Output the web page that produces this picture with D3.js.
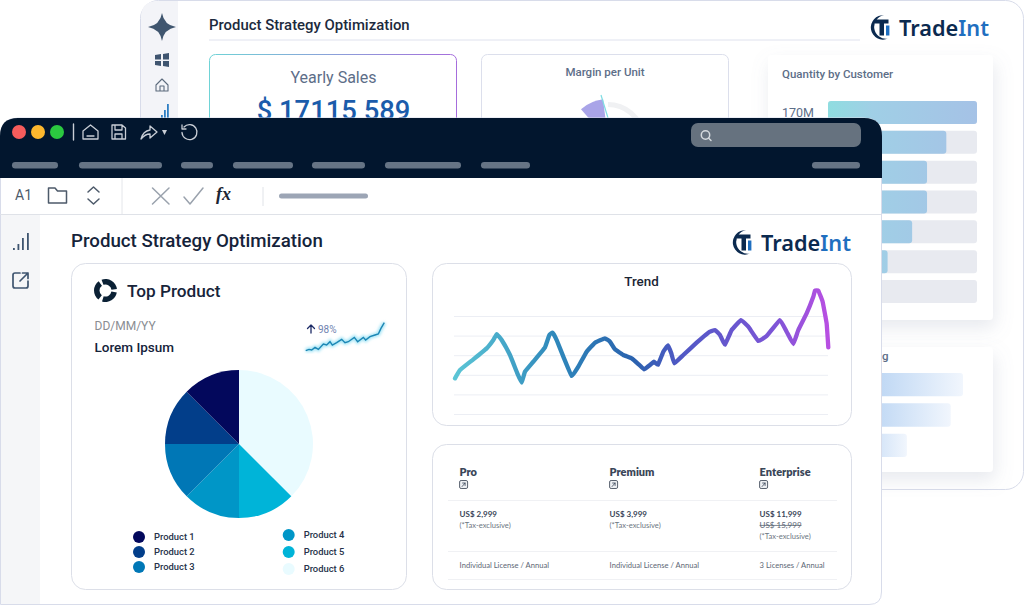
<!DOCTYPE HTML>
<html>
<head>
<meta charset="utf-8">
<title>Product Strategy Optimization</title>
<script src="https://d3js.org/d3.v7.min.js"></script>
<style>
    html, body { margin: 0; padding: 0; background: #fff; }
    svg { display: block; }
    text { font-family: Roboto, sans-serif; }
    .soft { font-family: Lato, sans-serif; }
    .brand { font-family: "Noto Sans", sans-serif; }
    .math { font-family: "Liberation Serif", serif; }
</style>
</head>
<body>
<svg id="chart" width="1024" height="605"></svg>
<script>
// data
const pieProducts = ["Product 6", "Product 5", "Product 4", "Product 3", "Product 2", "Product 1"];
const pieValues = [37.5, 12.5, 12.5, 12.5, 12.5, 12.5];
const pieColors = ["#e9fbff", "#00b4d8", "#0096c7", "#0077b6", "#023e8a", "#03085c"];

const trendTime = [3, 18, 58, 98, 118, 128, 143, 168, 190, 203, 213, 238, 273, 286, 296, 308, 328, 353, 373, 398, 423, 453, 468, 483, 508, 533, 553, 570, 588, 600, 612, 628, 642, 652, 661, 688, 728, 763, 783, 798, 813, 833, 861, 883, 913, 938, 978, 998, 1018, 1033, 1058, 1078, 1083, 1093, 1106, 1118, 1123];
const trendValues = [36.4, 44.9, 55.8, 67, 75.5, 81.6, 75.5, 60.2, 41.5, 32, 43.2, 53.4, 68, 80.6, 83, 75.5, 58.5, 38.8, 48.3, 63.6, 72.8, 77.2, 73.8, 66, 60.2, 56.8, 51, 45.6, 50, 53.4, 50.3, 63.6, 70, 61.9, 51.7, 60.2, 72.8, 83, 85.7, 80.6, 70.7, 85.7, 95.9, 89.1, 74.5, 79.6, 95.9, 84, 71.4, 85.7, 102.7, 119.7, 125.9, 125.9, 114.6, 92.5, 68];

const sparkTime = [32, 42, 50, 60, 70, 85, 95, 105, 112, 125, 140, 150, 160, 178, 188, 205, 212, 225, 240, 250, 258, 268];
const sparkValues = [8, 12, 10, 18, 12, 28, 25, 35, 25, 32, 42, 32, 35, 48, 35, 48, 40, 50, 55, 58, 75, 92];

const qtyValues = [170, 135, 113, 113, 96, 68, 0];
const rankValues = [154, 140, 90];

const planNames = ["Pro", "Premium", "Enterprise"];
const planPrices = ["US$ 2,999", "US$ 3,999", "US$ 11,999"];
const planOldPrices = [null, null, "US$ 15,999"];
const planLicences = ["Individual License / Annual", "Individual License / Annual", "3 Licenses / Annual"];
const menuStarts = [12, 79, 181, 233, 312, 385, 481, 812];
const menuEnds = [58, 162, 213, 293, 365, 461, 530, 860];

const svg = d3.select("#chart");
const defs = svg.append("defs");

function gradient(id, stops, x1, x2, y1, y2) {
    const g = defs.append("linearGradient").attr("id", id).attr("gradientUnits", "userSpaceOnUse")
        .attr("x1", x1).attr("x2", x2).attr("y1", y1 || 0).attr("y2", y2 || 0);
    stops.forEach(s => g.append("stop").attr("offset", s[0]).attr("stop-color", s[1]));
}
const shadow = defs.append("filter").attr("id", "shadow").attr("x", "-20%").attr("y", "-20%").attr("width", "140%").attr("height", "140%");
shadow.append("feDropShadow").attr("dx", 2).attr("dy", 8).attr("stdDeviation", 9).attr("flood-color", "#8a93ad").attr("flood-opacity", 0.2);
const glow = defs.append("filter").attr("id", "glow");
glow.append("feGaussianBlur").attr("stdDeviation", 1.6);

function box(parent, x, y, w, h, r, fill, stroke) {
    return parent.append("rect").attr("x", x).attr("y", y).attr("width", w).attr("height", h)
        .attr("rx", r).attr("fill", fill).attr("stroke", stroke || "none");
}
function label(parent, x, y, str, size, color, weight, anchor) {
    return parent.append("text").attr("x", x).attr("y", y).text(str)
        .attr("font-size", size).attr("fill", color)
        .attr("font-weight", weight || 400).attr("text-anchor", anchor || "start");
}
function icon(parent, d, color, width) {
    return parent.append("path").attr("d", d).attr("fill", "none").attr("stroke", color)
        .attr("stroke-width", width || 1.6).attr("stroke-linecap", "round").attr("stroke-linejoin", "round");
}

function logo(parent, x, y) {
    const g = parent.append("g").attr("transform", `translate(${x},${y})`);
    g.append("path").attr("fill", "#0b2a4f").attr("d", "M15 0.3 A12.2 12.2 0 1 0 19 23.6 A11.5 11.5 0 0 1 15 0.3 Z");
    g.append("path").attr("fill", "#0b2a4f").attr("d", "M6 4.5 H19.5 V8.4 H15 V20.5 H10.5 V8.4 H6 Z");
    g.append("rect").attr("x", 17).attr("y", 10.5).attr("width", 3.4).attr("height", 10).attr("fill", "#1f6fc0");
    const t = g.append("text").attr("x", 30).attr("y", 21).attr("font-size", 22).attr("font-weight", 600)
        .attr("class", "brand").attr("textLength", 90).attr("lengthAdjust", "spacingAndGlyphs").attr("fill", "#0b2a4f");
    t.append("tspan").text("Trade");
    t.append("tspan").attr("fill", "#1f6fc0").text("Int");
}

// ---- back panel
const back = svg.append("g");
box(back, 140.5, 0.5, 883, 489, 18, "#fff", "#d8dcea");
back.append("path").attr("fill", "#f3f4f8").attr("d", "M178 1 H158 Q141 1 141 18 V130 H178 Z");
back.append("path").attr("fill", "#40566f").attr("d", "M162 13 Q164 25 176 27 Q164 29 162 41 Q160 29 148 27 Q160 25 162 13 Z");
back.append("path").attr("fill", "#3f5570").attr("d", "M155 55 L161 54 V59.5 H155 Z M163 54 L169 53 V59.5 H163 Z M155 61 H161 V66 L155 65 Z M163 61 H169 V67 L163 66 Z");
icon(back, "M156 85 L162 79 L168 85 V91 H156 Z M160 91 V86 H164 V91", "#5c6b7d", 1.1);
[[158, 118], [161, 115], [164, 110], [167, 104]].forEach(b =>
    back.append("rect").attr("x", b[0]).attr("y", b[1]).attr("width", 1.8).attr("height", 122 - b[1]).attr("fill", "#2f7fc4"));

label(back, 209, 30, "Product Strategy Optimization", 14.9, "#1c2a3d", 500);
back.append("line").attr("x1", 209).attr("x2", 860).attr("y1", 40).attr("y2", 40).attr("stroke", "#dfe2ee");
logo(back, 869, 15);

gradient("salesBorder", [[0, "#6fd3d6"], [1, "#a66ddc"]], 209, 457);
box(back, 209.5, 54.5, 247, 90, 6, "#fff", "url(#salesBorder)");
label(back, 333.5, 83, "Yearly Sales", 16, "#5d6e88", 400, "middle");
label(back, 333.5, 120, "$ 17115 589", 27.4, "#1b5cab", 500, "middle");

box(back, 481.5, 54.5, 247, 90, 6, "#fff", "#dcdfec");
label(back, 605, 76, "Margin per Unit", 11.5, "#5d6e88", 500, "middle");
const gauge = back.append("g").attr("transform", "translate(608,140)");
gauge.append("path").attr("fill", "#f0f1f3")
    .attr("d", d3.arc()({innerRadius: 33, outerRadius: 38, startAngle: 0, endAngle: 1.4}));
gradient("fan", [[0, "#a9a4e8"], [1, "#b9d8ee"]], 584, 606, 118, 100);
gauge.append("path").attr("fill", "url(#fan)")
    .attr("d", d3.arc()({innerRadius: 0, outerRadius: 41, startAngle: -0.72, endAngle: -0.12}));
gauge.append("line").attr("x1", -7).attr("y1", -45).attr("x2", 0).attr("y2", -22).attr("stroke", "#7fdde3").attr("stroke-width", 1.2);

// quantity by customer
box(back, 768, 55, 225, 265, 4, "#fff").attr("filter", "url(#shadow)");
label(back, 782, 78, "Quantity by Customer", 11.5, "#5d6e88", 500);
label(back, 782, 117, "170M", 12.5, "#5d6e88", 400);
const xQty = d3.scaleLinear().domain([0, 170]).range([0, 149]);
const yQty = d3.scaleBand().domain(d3.range(qtyValues.length)).range([101, 303]).paddingInner(0.23);
gradient("qtyFill", [[0, "#8fdde0"], [0.3, "#a0cfe6"], [1, "#a5c2e6"]], 828, 977);
back.selectAll(".track").data(qtyValues).enter().append("rect").attr("class", "track")
    .attr("x", 828).attr("y", (d, i) => yQty(i)).attr("width", xQty(170)).attr("height", yQty.bandwidth())
    .attr("rx", 3).attr("fill", "#e8eaf0");
back.selectAll(".qty").data(qtyValues).enter().append("rect").attr("class", "qty")
    .attr("x", 828).attr("y", (d, i) => yQty(i)).attr("width", d => xQty(d)).attr("height", yQty.bandwidth())
    .attr("rx", 3).attr("fill", "url(#qtyFill)");

// second card, only the end of its title shows
box(back, 768, 347, 225, 125, 4, "#fff").attr("filter", "url(#shadow)");
label(back, 882, 360, "g", 11.5, "#5d6e88", 500);
const yRank = d3.scaleBand().domain(d3.range(rankValues.length)).range([373, 457]).paddingInner(0.23);
const rankFill = defs.append("linearGradient").attr("id", "rankFill");
rankFill.append("stop").attr("offset", 0.3).attr("stop-color", "#b9d4f3");
rankFill.append("stop").attr("offset", 1).attr("stop-color", "#f1f6fd");
back.selectAll(".rank").data(rankValues).enter().append("rect").attr("class", "rank")
    .attr("x", 828).attr("y", (d, i) => yRank(i)).attr("width", d => xQty(d)).attr("height", yRank.bandwidth())
    .attr("rx", 3).attr("fill", "url(#rankFill)");

// ---- front window
const win = svg.append("g");
win.append("path").attr("fill", "#fff").attr("stroke", "#d8dcea")
    .attr("d", "M0.5 136 Q0.5 118 18 118 H864 Q881.5 118 881.5 136 V592 Q881.5 604.5 869 604.5 H0.5 Z");
win.append("path").attr("fill", "#02162e").attr("d", "M0 178 V136 Q0 118 18 118 H864 Q882 118 882 136 V178 Z");
win.append("rect").attr("x", 1).attr("y", 215).attr("width", 39).attr("height", 389).attr("fill", "#f5f6f8");
win.append("line").attr("x1", 0).attr("x2", 881).attr("y1", 214.5).attr("y2", 214.5).attr("stroke", "#dfe2e8");
win.append("line").attr("x1", 122).attr("x2", 122).attr("y1", 178).attr("y2", 214).attr("stroke", "#e4e6ea");

[["#f65c5c", 19], ["#fdb82e", 38], ["#2bc840", 57]].forEach(c =>
    win.append("circle").attr("cx", c[1]).attr("cy", 132).attr("r", 7).attr("fill", c[0]));
icon(win, "M73.5 124 V140", "#c9ced6", 1.4);
icon(win, "M83 131 L90.5 125 L98 131 V139 H83 Z M87 136 H94", "#c9ced6", 1.3);
icon(win, "M112 125 H122 L125.5 128 V139 H112 Z M115 125 V130 H122 V125 M115 139 V134 H122 V139", "#c9ced6", 1.3);
icon(win, "M141 139 Q143 131 150 130 V126 L157 132 L150 138 V134 Q145 134 141 139 Z", "#c9ced6", 1.3);
win.append("path").attr("fill", "#c9ced6").attr("d", "M162 130 H167 L164.5 135 Z");
icon(win, "M184 127 A7.5 7.5 0 1 1 182 132.5 M182 125 V129 H186", "#c9ced6", 1.3);

box(win, 691, 123, 170, 24, 7, "#66727f");
win.append("circle").attr("cx", 705.5).attr("cy", 135).attr("r", 4.2).attr("fill", "none").attr("stroke", "#d5dade").attr("stroke-width", 1.5);
icon(win, "M708.7 138.2 L711 140.5", "#d5dade", 1.5);
win.selectAll(".menu").data(menuStarts).enter().append("rect").attr("class", "menu")
    .attr("x", d => d).attr("y", 162).attr("width", (d, i) => menuEnds[i] - d).attr("height", 6.5)
    .attr("rx", 3.2).attr("fill", "#667485");

label(win, 15, 200, "A1", 14, "#4d5a6a", 400);
icon(win, "M48.5 188 H55 L57.5 191 H66.5 V203 H48.5 Z", "#4d5a6a", 1.5);
icon(win, "M88 192 L93.5 187 L99 192 M88 199 L93.5 204 L99 199", "#4d5a6a", 1.5);
icon(win, "M152.5 188 L169 204 M169 188 L152.5 204", "#9aa2ad", 1.5);
icon(win, "M184 197 L190 204 L203 188", "#9aa2ad", 1.5);
win.append("text").attr("class", "math").attr("x", 216).attr("y", 200).text("fx").attr("font-size", 18).attr("font-weight", 700)
    .attr("font-style", "italic").attr("fill", "#1b2534");
win.append("line").attr("x1", 263).attr("x2", 263).attr("y1", 187).attr("y2", 206).attr("stroke", "#e0e3e8");
box(win, 279, 193.5, 89, 5, 2.5, "#9ca5b5");

[[13, 248], [17.5, 244], [22, 238], [27, 233]].forEach(b =>
    win.append("rect").attr("x", b[0]).attr("y", b[1]).attr("width", 1.8).attr("height", 250 - b[1]).attr("fill", "#3f5570"));
icon(win, "M20 273 H15 Q13 273 13 275 V286 Q13 288 15 288 H26 Q28 288 28 286 V281 M20 281 L28 273 M22.5 273 H28 V278.5", "#3f5570", 1.7);

label(win, 71, 247, "Product Strategy Optimization", 18.7, "#15233a", 500);
logo(win, 731, 230);

// ---- top product card
box(win, 71.5, 263.5, 335, 326, 14, "#fff", "#dcdfe8");
const ringIcon = win.append("g").attr("transform", "translate(105.5,290.5)");
[[-0.35, 1.45], [1.75, 3.45], [3.8, 5.65]].forEach(a =>
    ringIcon.append("path").attr("fill", "#0b2135")
        .attr("d", d3.arc()({innerRadius: 6, outerRadius: 11.5, startAngle: a[0], endAngle: a[1]})));
label(win, 127, 297, "Top Product", 17.2, "#17243a", 500);
label(win, 94.5, 330, "DD/MM/YY", 12, "#8a8d92", 400);
label(win, 94.5, 352, "Lorem Ipsum", 13.5, "#15233a", 500);
icon(win, "M311 333 V325 M307.5 328.5 L311 325 L314.5 328.5", "#1c2a66", 1.3);
label(win, 318, 333, "98%", 10, "#6f83b0", 400);

const xSpark = d3.scaleLinear().domain([32, 268]).range([305.7, 384.3]);
const ySpark = d3.scaleLinear().domain([8, 92]).range([350.7, 322.7]);
const sparkLine = d3.line().x((d, i) => xSpark(sparkTime[i])).y(d => ySpark(d));
win.append("path").datum(sparkValues).attr("d", sparkLine).attr("fill", "none")
    .attr("stroke", "#9fe3f5").attr("stroke-width", 4).attr("filter", "url(#glow)");
win.append("path").datum(sparkValues).attr("d", sparkLine).attr("fill", "none")
    .attr("stroke", "#1c86b4").attr("stroke-width", 1.4);

// pie, slices run clockwise from the top
const pieGen = d3.pie().sort(null);
const arcGen = d3.arc().innerRadius(0).outerRadius(74);
const color = d3.scaleOrdinal().domain(pieProducts).range(pieColors);
win.append("g").attr("transform", "translate(239,444)")
    .selectAll("path").data(pieGen(pieValues)).enter().append("path")
    .attr("d", arcGen).attr("fill", (d, i) => color(pieProducts[i]));

// legend
const legendLeft = ["Product 1", "Product 2", "Product 3"];
const legendRight = ["Product 4", "Product 5", "Product 6"];
const legendLeftY = d3.scalePoint().domain(legendLeft).range([537, 567]);
const legendRightY = d3.scalePoint().domain(legendRight).range([535, 569]);
function legend(names, yScale, dotX, textX) {
    const row = win.selectAll(null).data(names).enter().append("g");
    row.append("circle").attr("cx", dotX).attr("cy", d => yScale(d)).attr("r", 6).attr("fill", d => color(d));
    row.append("text").attr("x", textX).attr("y", d => yScale(d) + 3).text(d => d)
        .attr("font-size", 9.4).attr("font-weight", 500).attr("fill", "#26324a");
}
legend(legendLeft, legendLeftY, 139, 154);
legend(legendRight, legendRightY, 288.7, 303.7);

// ---- trend card
box(win, 432.5, 263.5, 419, 162, 14, "#fff", "#dcdfe8");
label(win, 641.5, 286, "Trend", 13.4, "#1b2534", 500, "middle");
const xTrend = d3.scaleLinear().domain([0, 1123]).range([454, 828.3]);
const yTrend = d3.scaleLinear().domain([0, 100]).range([414, 316]);
const grid = win.append("g").attr("transform", "translate(454,0)")
    .call(d3.axisLeft(yTrend).ticks(5).tickSize(-374).tickFormat(""));
grid.select(".domain").remove();
grid.selectAll("line").attr("stroke", "#eceef4");
gradient("trendFill", [[0, "#5cc6d6"], [0.27, "#2f88bb"], [0.48, "#2a62ae"], [0.6, "#4f58c4"], [0.85, "#7b55d6"], [1, "#b84fe2"]], 454, 828);
win.append("path").datum(trendValues)
    .attr("d", d3.line().x((d, i) => xTrend(trendTime[i])).y(d => yTrend(d)).curve(d3.curveCardinal.tension(0.75)))
    .attr("fill", "none").attr("stroke", "url(#trendFill)").attr("stroke-width", 4.3)
    .attr("stroke-linecap", "round").attr("stroke-linejoin", "round");

// ---- plans card
box(win, 432.5, 444.5, 419, 145, 14, "#fff", "#dcdfe8");
const xPlan = d3.scaleBand().domain(planNames).range([459.6, 909.6]);
[500, 551, 579].forEach(y =>
    win.append("line").attr("x1", 448).attr("x2", 837).attr("y1", y + 0.5).attr("y2", y + 0.5).attr("stroke", "#f0f1f4"));
planNames.forEach((name, i) => {
    const x = xPlan(name);
    label(win, x, 476, name, 11, "#3a4658", 800).attr("class", "soft");
    box(win, x, 480.5, 8, 8, 1.5, "#eef0f3", "#59626f");
    icon(win, `M${x + 2.5} 486.5 L${x + 5.5} 483 M${x + 3} 483 H${x + 5.5} V485.5`, "#3a4658", 0.8);
    label(win, x, 517, planPrices[i], 8, "#3a4658", 700).attr("class", "soft");
    let y = 528;
    if (planOldPrices[i]) {
        label(win, x, y, planOldPrices[i], 8, "#5d6775", 400).attr("class", "soft").attr("text-decoration", "line-through");
        y = 539;
    }
    label(win, x, y, "(*Tax-exclusive)", 7.6, "#6d7682", 400).attr("class", "soft");
    label(win, x, 568, planLicences[i], 7.6, "#5d6775", 400).attr("class", "soft");
});
</script>
</body>
</html>
